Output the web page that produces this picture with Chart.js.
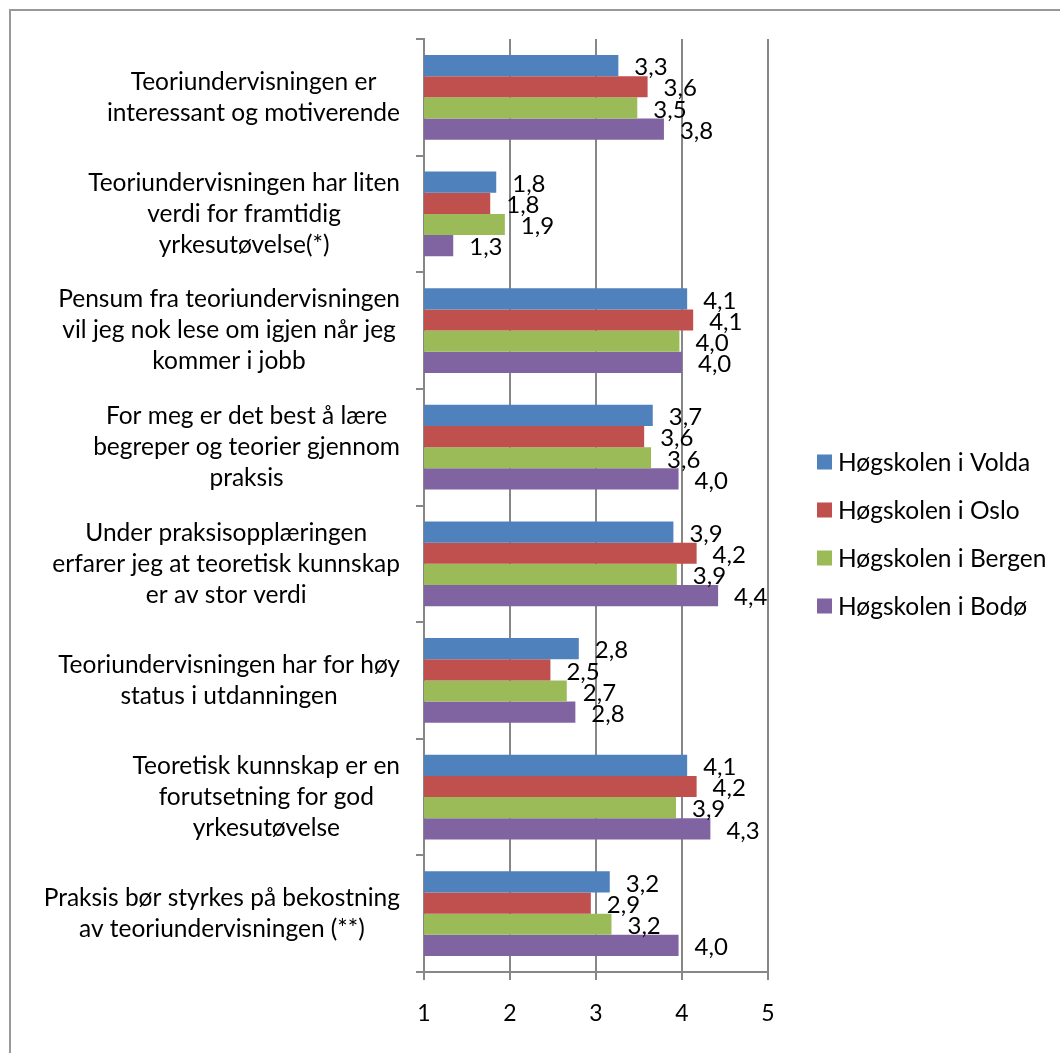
<!DOCTYPE html>
<html>
<head>
<meta charset="utf-8">
<script src="https://cdn.jsdelivr.net/npm/chart.js@4/dist/chart.umd.min.js"></script>
<style>
  html, body { margin: 0; padding: 0; background: #fff; }
  #wrap { position: relative; width: 1060px; height: 1053px; }
</style>
</head>
<body>
<div id="wrap"><canvas id="c" width="1060" height="1053"></canvas></div>
<script>
const categories = [
  ["Teoriundervisningen er", "interessant og motiverende"],
  ["Teoriundervisningen har liten", "verdi for framtidig", "yrkesutøvelse(*)"],
  ["Pensum fra teoriundervisningen", "vil jeg nok lese om igjen når jeg", "kommer i jobb"],
  ["For meg er det best å lære", "begreper og teorier gjennom", "praksis"],
  ["Under praksisopplæringen", "erfarer jeg at teoretisk kunnskap", "er av stor verdi"],
  ["Teoriundervisningen har for høy", "status i utdanningen"],
  ["Teoretisk kunnskap er en", "forutsetning for god", "yrkesutøvelse"],
  ["Praksis bør styrkes på bekostning", "av teoriundervisningen (**)"]
];
const seriesNames = ["Høgskolen i Volda", "Høgskolen i Oslo", "Høgskolen i Bergen", "Høgskolen i Bodø"];
const volda  = [3.26, 1.84, 4.06, 3.66, 3.90, 2.80, 4.06, 3.16];
const oslo   = [3.60, 1.77, 4.13, 3.56, 4.17, 2.47, 4.17, 2.94];
const bergen = [3.48, 1.94, 3.97, 3.64, 3.94, 2.66, 3.93, 3.18];
const bodo   = [3.79, 1.34, 4.00, 3.96, 4.42, 2.76, 4.33, 3.96];
const xTicks = [1, 2, 3, 4, 5];
const colors = ["#4F81BD", "#C0504D", "#9BBB59", "#8064A2"];

const FONT = "Lato, 'Open Sans', sans-serif";
const FS_CAT = 24.5;
const FS_VAL = 24;
const FS_LEG = 24.5;
const FS_TICK = 23;
const GRID = "#878787";

const fmt = v => v.toFixed(1).replace('.', ',');

const borderPlugin = {
  id: 'frame',
  beforeDraw(chart) {
    const ctx = chart.ctx;
    ctx.save();
    ctx.fillStyle = '#fff';
    ctx.fillRect(0, 0, chart.width, chart.height);
    ctx.strokeStyle = '#999';
    ctx.lineWidth = 2;
    ctx.beginPath();
    ctx.moveTo(10, chart.height);
    ctx.lineTo(10, 10);
    ctx.lineTo(chart.width, 10);
    ctx.stroke();
    ctx.restore();
  }
};

const catLabelPlugin = {
  id: 'catLabels',
  afterDraw(chart) {
    const ctx = chart.ctx;
    const ys = chart.scales.y;
    const right = ys.right - 24;
    const lh = 31;
    ctx.save();
    ctx.font = FS_CAT + 'px ' + FONT;
    ctx.fillStyle = '#000';
    ctx.textAlign = 'center';
    ctx.textBaseline = 'middle';
    chart.data.labels.forEach((lines, i) => {
      const cy = ys.getPixelForValue(i);
      const maxW = Math.max(...lines.map(l => ctx.measureText(l).width));
      const cx = right - maxW / 2;
      const y0 = cy - (lines.length - 1) * lh / 2;
      lines.forEach((l, k) => ctx.fillText(l, cx, y0 + k * lh));
    });
    ctx.restore();
  }
};

const valueLabelPlugin = {
  id: 'valueLabels',
  afterDatasetsDraw(chart) {
    const ctx = chart.ctx;
    ctx.save();
    ctx.font = FS_VAL + 'px ' + FONT;
    ctx.fillStyle = '#000';
    ctx.textAlign = 'left';
    ctx.textBaseline = 'middle';
    chart.data.datasets.forEach((ds, di) => {
      const meta = chart.getDatasetMeta(di);
      meta.data.forEach((bar, i) => {
        ctx.fillText(fmt(ds.data[i]), bar.x + 16, bar.y + 2);
      });
    });
    ctx.restore();
  }
};

const legendPlugin = {
  id: 'customLegend',
  afterDraw(chart) {
    const ctx = chart.ctx;
    const x0 = chart.chartArea.right + 49;
    const yc = 534;
    const gap = 48;
    const n = chart.data.datasets.length;
    ctx.save();
    ctx.font = FS_LEG + 'px ' + FONT;
    ctx.textAlign = 'left';
    ctx.textBaseline = 'middle';
    chart.data.datasets.forEach((ds, i) => {
      const y = yc + (i - (n - 1) / 2) * gap;
      ctx.fillStyle = ds.backgroundColor;
      ctx.fillRect(x0, y - 7.5, 15, 15);
      ctx.fillStyle = '#000';
      ctx.fillText(ds.label, x0 + 21, y + 1);
    });
    ctx.restore();
  }
};

const seriesData = [volda, oslo, bergen, bodo];

new Chart(document.getElementById('c'), {
  type: 'bar',
  data: {
    labels: categories,
    datasets: seriesData.map((d, i) => ({
      label: seriesNames[i],
      data: d,
      backgroundColor: colors[i],
      borderWidth: 0,
      categoryPercentage: 0.726,
      barPercentage: 1.0
    }))
  },
  options: {
    indexAxis: 'y',
    responsive: false,
    animation: false,
    devicePixelRatio: 1,
    layout: { padding: { top: 39, right: 292, left: 0, bottom: 0 } },
    plugins: {
      legend: { display: false },
      tooltip: { enabled: false }
    },
    scales: {
      x: {
        type: 'linear',
        min: 1, max: 5,
        afterBuildTicks: s => { s.ticks = xTicks.map(v => ({ value: v })); },
        afterFit: s => { s.height = 81; },
        grid: { color: GRID, lineWidth: 2, tickLength: 8, drawTicks: true },
        border: { color: GRID, width: 2 },
        ticks: { font: { family: FONT, size: FS_TICK }, color: '#000', padding: 20,
                 callback: v => String(v) }
      },
      y: {
        type: 'category',
        afterFit: s => { s.width = 424; },
        grid: { drawOnChartArea: false, drawTicks: true, tickLength: 8, color: GRID, lineWidth: 2, offset: true },
        border: { color: GRID, width: 2 },
        ticks: { display: false }
      }
    }
  },
  plugins: [borderPlugin, catLabelPlugin, valueLabelPlugin, legendPlugin]
});
</script>
</body>
</html>
